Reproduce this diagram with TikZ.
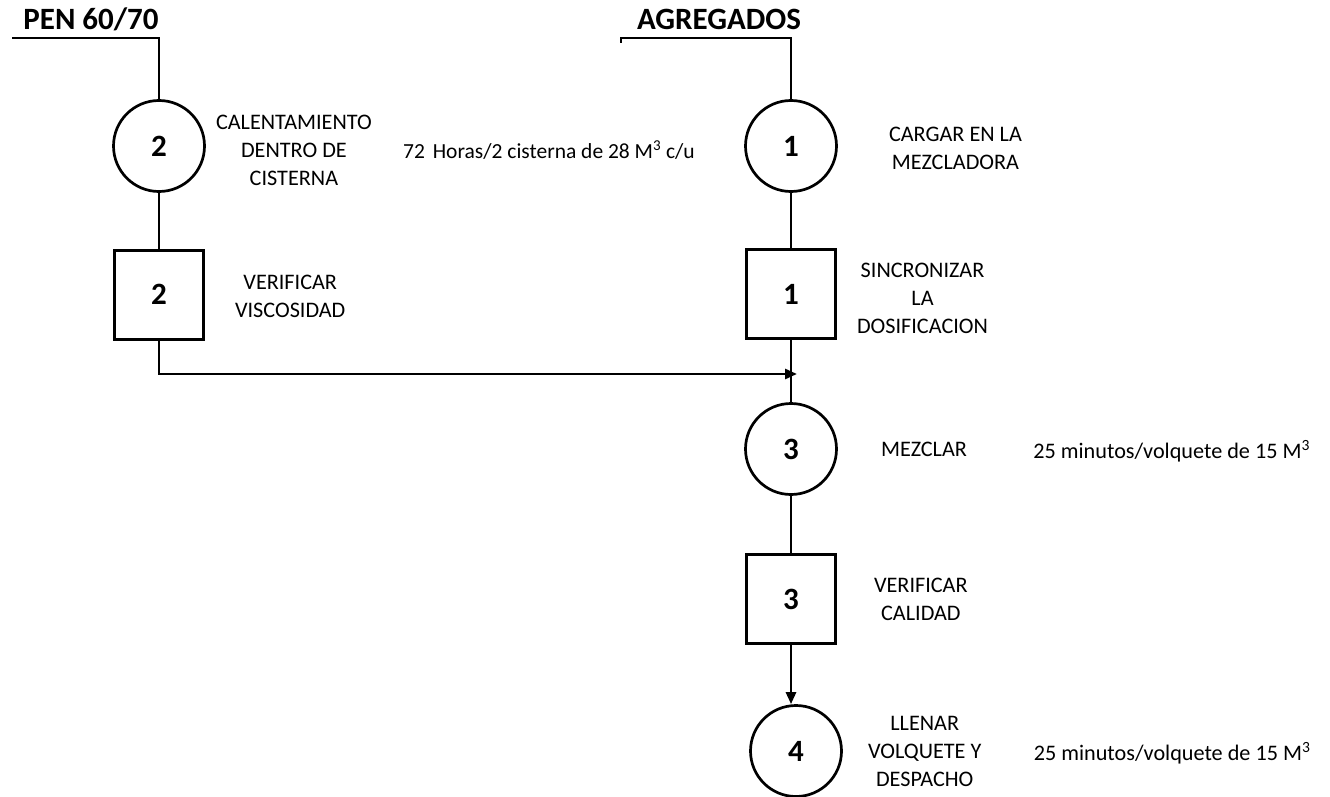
\documentclass[tikz,border=0pt]{standalone}
\usepackage{fontspec}
\setmainfont{Carlito}
\usetikzlibrary{arrows.meta,positioning}

\begin{document}
\begin{tikzpicture}[
  x=1pt, y=-1pt,
  font=\fontsize{22.2}{28}\selectfont,
  oper/.style={circle, draw=black, line width=2.7pt, minimum size=91pt,
    inner sep=0pt, font=\fontsize{31}{34}\selectfont\bfseries},
  insp/.style={rectangle, draw=black, line width=2.7pt, minimum size=89pt,
    inner sep=0pt, font=\fontsize{31}{34}\selectfont\bfseries},
  desc/.style={align=center, inner sep=0pt},
  note/.style={inner sep=0pt},
  head/.style={inner sep=0pt, font=\fontsize{31}{34}\selectfont\bfseries},
  flow/.style={line width=2.7pt, draw=black},
  feed/.style={flow, -{Triangle[length=12pt,width=10pt]}},
]
\useasboundingbox (0,0) rectangle (1330,797);
\node[head] (pen) at (91,19) {PEN 60/70};
\node[head] (agr) at (719,19) {AGREGADOS};
\node[oper] (c2) at (159,146) {2};
\node[insp, below=56pt of c2] (s2) {2};
\node[oper] (c1) at (791,146) {1};
\node[insp, below=55.6pt of c1] (s1) {1};
\node[oper, below=62pt of s1] (c3) {3};
\node[insp, below=57.6pt of c3] (s3) {3};
\node[oper, below=59pt of s3, xshift=5pt] (c4) {4};
\node[desc, right=10pt of c2, yshift=-4pt] (c2t) {CALENTAMIENTO\\DENTRO DE\\CISTERNA};
\node[note, right=31pt of c2t, font=\fontsize{21.5}{28}\selectfont] (c2n) {72\kern3pt{} Horas/2 cisterna de 28 M\textsuperscript{3} c/u};
\node[desc, right=30pt of s2, yshift=-2pt] (s2t) {VERIFICAR\\VISCOSIDAD};
\node[desc, right=51pt of c1, yshift=-2pt] (c1t) {CARGAR EN LA\\MEZCLADORA};
\node[desc, right=20pt of s1, yshift=-4pt] (s1t) {SINCRONIZAR\\LA\\DOSIFICACION};
\node[desc, right=43pt of c3] (c3t) {MEZCLAR};
\node[note, right=66pt of c3t, yshift=-2pt] (c3n) {25 minutos/volquete de 15 M\textsuperscript{3}};
\node[desc, right=37pt of s3] (s3t) {VERIFICAR\\CALIDAD};
\node[desc, right=25pt of c4] (c4t) {LLENAR\\VOLQUETE Y\\DESPACHO};
\node[note, right=52pt of c4t, yshift=-2pt] (c4n) {25 minutos/volquete de 15 M\textsuperscript{3}};
\coordinate (penin) at (12,38);
\coordinate (agrin) at (621,43);
\coordinate (mix) at (797,374);
\draw[flow] (penin) -| (c2.north);
\draw[flow] (agrin) -- ++(0,-5) -| (c1.north);
\draw[flow] (c2) -- (s2);
\draw[feed] (s2.south) |- (mix);
\draw[flow] (c1) -- (s1);
\draw[flow] (s1) -- (c3);
\draw[flow] (c3) -- (s3);
\draw[feed] (s3) -- (s3 |- c4.north);
\end{tikzpicture}
\end{document}
